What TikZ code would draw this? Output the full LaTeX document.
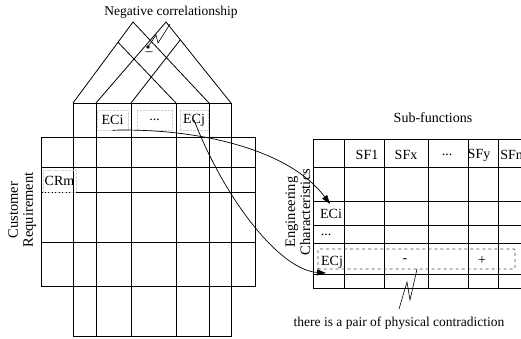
\documentclass[tikz,border=0pt]{standalone}
\usepackage{fontspec}
\setmainfont{Liberation Serif}
\usetikzlibrary{arrows.meta,calc}

\begin{document}
\begin{tikzpicture}[x=1pt, y=-1pt, line width=0.8pt,
    lbl/.style={font=\fontsize{14}{16}\selectfont, inner sep=1pt},
    note/.style={font=\fontsize{13.5}{15}\selectfont, inner sep=1pt},
    side/.style={font=\fontsize{14.5}{15}\selectfont, rotate=90, align=center, inner sep=0pt},
    tbox/.style={lbl, draw=gray!35, densely dotted, line width=0.4pt},
    flow/.style={line width=0.7pt, -{Triangle[length=9pt,width=6pt]}},
    brk/.style={line width=0.6pt}]
    \clip (0,0) rectangle (521,339);

    % House of quality: roof
    \coordinate (l1) at (73,103);
    \coordinate (l2) at (96,103);
    \coordinate (l3) at (131,103);
    \coordinate (r3) at (176,103);
    \coordinate (r2) at (209,103);
    \coordinate (r1) at (231,103);
    \coordinate (apexl) at (133,22);
    \coordinate (apexr) at (166,22);
    \draw (l1) -- (apexl) -- (r2);
    \draw (l2) -- (apexr) -- (r1);
    \draw (l3) -- ($(r1)!0.78!(apexr)$);
    \draw (r3) -- ($(l1)!0.75!(apexl)$);
    \fill (148,47) circle (1.8pt);
    \node[lbl] (minus) at (149,54) {--};
    \coordinate (negdot) at (148,47);

    % House of quality: header columns and grid
    \draw (73,103) -- (231,103);
    \draw (41,137) rectangle (255,286);
    \draw (41,167) -- (255,167) (41,192) -- (255,192) (41,242) -- (255,242);
    \draw (73,286) -- (73,336) -- (231,336) -- (231,286);
    \draw (73,103) -- (73,137) (231,103) -- (231,137);
    \draw (96,103) -- (96,336) (131,103) -- (131,336) (176,103) -- (176,336) (209,103) -- (209,336);
    \draw (73,137) -- (73,286) (231,137) -- (231,286);

    \node[tbox, minimum width=31pt, minimum height=20pt] (ecil) at (112.5,120) {ECi};
    \node[tbox, minimum width=35pt, minimum height=20pt] (dotsl) at (154.5,120) {...};
    \node[tbox, minimum width=28pt, minimum height=20pt] (ecjl) at (194,120) {ECj};
    \node[tbox, minimum width=33pt, minimum height=22pt] (crm) at (59.5,181) {CRm};
    \node[side] (custreq) at (22,210) {Customer\\Requirement};

    \node[note] (negcor) at (171,12) {Negative correlationship};
    \coordinate (negend) at (170,24);
    \draw[brk] (negdot) -- (156,35) -- (158,43) -- (negend);

    % Sub-functions table
    \draw (313,139) -- (521,139) (313,167) -- (521,167) (313,201) -- (521,201)
          (313,225) -- (521,225) (313,243) -- (521,243) (313,274) -- (521,274)
          (313,288) -- (521,288);
    \draw (313,139) -- (313,288) (344,139) -- (344,288) (384,139) -- (384,288)
          (428,139) -- (428,288) (468,139) -- (468,288) (498,139) -- (498,288);

    \node[lbl] (subfn) at (433,118) {Sub-functions};
    \node[lbl] (sf1) at (367,155) {SF1};
    \node[lbl] (sfx) at (406,155) {SFx};
    \node[lbl] (dotst) at (447,155) {...};
    \node[lbl] (sfy) at (479,155) {SFy};
    \node[lbl, anchor=west] (sfm) at (499,155) {SFm};
    \node[lbl] (ecir) at (331,214) {ECi};
    \node[lbl] (dotsr) at (326,235) {...};
    \node[lbl] (ecjr) at (332,262) {ECj};
    \node[side] (engch) at (298,212) {Engineering\\Characteristics};

    \draw[dashed, black!70, rounded corners=1pt] (318,249) rectangle (515,269);
    \node[lbl] (minusr) at (405,261) {-};
    \node[lbl] (plusr) at (482,261) {+};

    \node[note] (contra) at (399,323) {there is a pair of physical contradiction};
    \coordinate (contratop) at (417,269);
    \draw[brk] (contratop) -- (410,300) -- (407,282) -- (399,309);

    % ECi and ECj carried over
    \coordinate (eciin) at (330,204);
    \coordinate (ecjin) at (326,273);
    \draw[flow] (ecil.south) .. controls (200,128) and (290,150) .. (eciin);
    \draw[flow] (ecjl.center) .. controls (225,200) and (280,270) .. (ecjin);
\end{tikzpicture}
\end{document}
